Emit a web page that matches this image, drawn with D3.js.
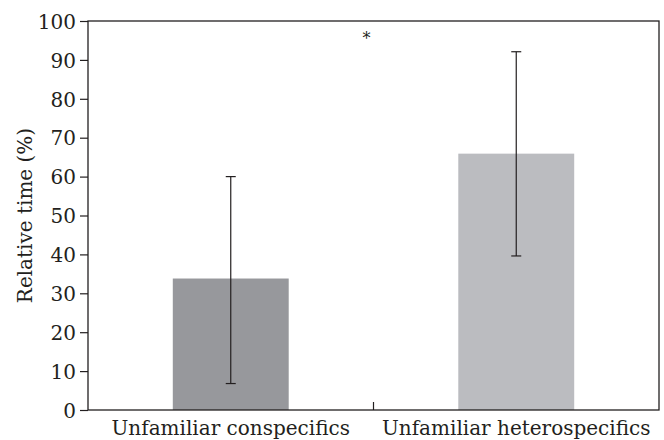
<!DOCTYPE html>
<html>
<head>
<meta charset="utf-8">
<script src="https://cdn.jsdelivr.net/npm/d3@7"></script>
<style>
  body { margin: 0; background: #fff; }
  text { font-family: "DejaVu Serif", "Liberation Serif", serif; fill: #231f20; }
</style>
</head>
<body>
<div id="container"></div>
<script>
/* DATA */
const categories = ["Unfamiliar conspecifics", "Unfamiliar heterospecifics"];
const means = [33.8, 65.9];
const upper = [60, 92.1];
const lower = [6.8, 39.6];
const barColors = ["#97989c", "#bbbcc0"];
const yTicks = [0, 10, 20, 30, 40, 50, 60, 70, 80, 90, 100];

/* LAYOUT */
const W = 664, H = 440;
const margin = {top: 21, right: 5, bottom: 30, left: 88};
const width = W - margin.left - margin.right;
const height = H - margin.top - margin.bottom;

const svg = d3.select("#container").append("svg")
    .attr("width", W)
    .attr("height", H);

const g = svg.append("g")
    .attr("transform", "translate(" + margin.left + "," + margin.top + ")");

const x = d3.scaleBand()
    .domain(categories)
    .range([0, width])
    .padding(0);

const y = d3.scaleLinear()
    .domain([0, 100])
    .range([height, 0]);

const barW = x.bandwidth() * 0.406;

// bars
g.selectAll("rect.bar")
  .data(categories)
  .join("rect")
    .attr("class", "bar")
    .attr("x", d => x(d) + x.bandwidth() / 2 - barW / 2)
    .attr("y", (d, i) => y(means[i]))
    .attr("width", barW)
    .attr("height", (d, i) => y(0) - y(means[i]))
    .attr("fill", (d, i) => barColors[i]);

// error bars
const cap = 5;
const err = g.selectAll("g.err")
  .data(categories)
  .join("g")
    .attr("class", "err")
    .attr("stroke", "#231f20")
    .attr("stroke-width", 1.2);
err.append("line")
    .attr("x1", d => x(d) + x.bandwidth() / 2)
    .attr("x2", d => x(d) + x.bandwidth() / 2)
    .attr("y1", (d, i) => y(upper[i]))
    .attr("y2", (d, i) => y(lower[i]));
err.append("line")
    .attr("x1", d => x(d) + x.bandwidth() / 2 - cap)
    .attr("x2", d => x(d) + x.bandwidth() / 2 + cap)
    .attr("y1", (d, i) => y(upper[i]))
    .attr("y2", (d, i) => y(upper[i]));
err.append("line")
    .attr("x1", d => x(d) + x.bandwidth() / 2 - cap)
    .attr("x2", d => x(d) + x.bandwidth() / 2 + cap)
    .attr("y1", (d, i) => y(lower[i]))
    .attr("y2", (d, i) => y(lower[i]));

// frame
g.append("rect")
    .attr("x", 0)
    .attr("y", 0)
    .attr("width", width)
    .attr("height", height)
    .attr("fill", "none")
    .attr("stroke", "#231f20")
    .attr("stroke-width", 1.3);

// y axis
const yAxis = g.append("g")
    .call(d3.axisLeft(y).tickValues(yTicks).tickSize(8).tickPadding(4));
yAxis.select(".domain").remove();
yAxis.selectAll("line").attr("stroke", "#231f20").attr("stroke-width", 1.2);
yAxis.selectAll("text")
    .style("font-size", "20px")
    .attr("dy", "0.36em");

// x axis: labels and middle tick
const xAxis = g.append("g")
    .attr("transform", "translate(0," + height + ")")
    .call(d3.axisBottom(x).tickSize(0).tickPadding(10));
xAxis.select(".domain").remove();
xAxis.selectAll("text")
    .style("font-size", "20px")
    .attr("dy", "0.75em");

g.append("line")
    .attr("x1", x(categories[1]))
    .attr("x2", x(categories[1]))
    .attr("y1", height)
    .attr("y2", height - 8)
    .attr("stroke", "#231f20")
    .attr("stroke-width", 1.2);

// significance
g.append("text")
    .attr("x", x(categories[1]) - 7)
    .attr("y", y(96) + 7)
    .attr("text-anchor", "middle")
    .style("font-size", "16px")
    .text("*");

// y label
svg.append("text")
    .attr("transform", "translate(32," + (margin.top + height / 2) + ")rotate(-90)")
    .attr("text-anchor", "middle")
    .style("font-size", "20px")
    .text("Relative time (%)");
</script>
</body>
</html>
